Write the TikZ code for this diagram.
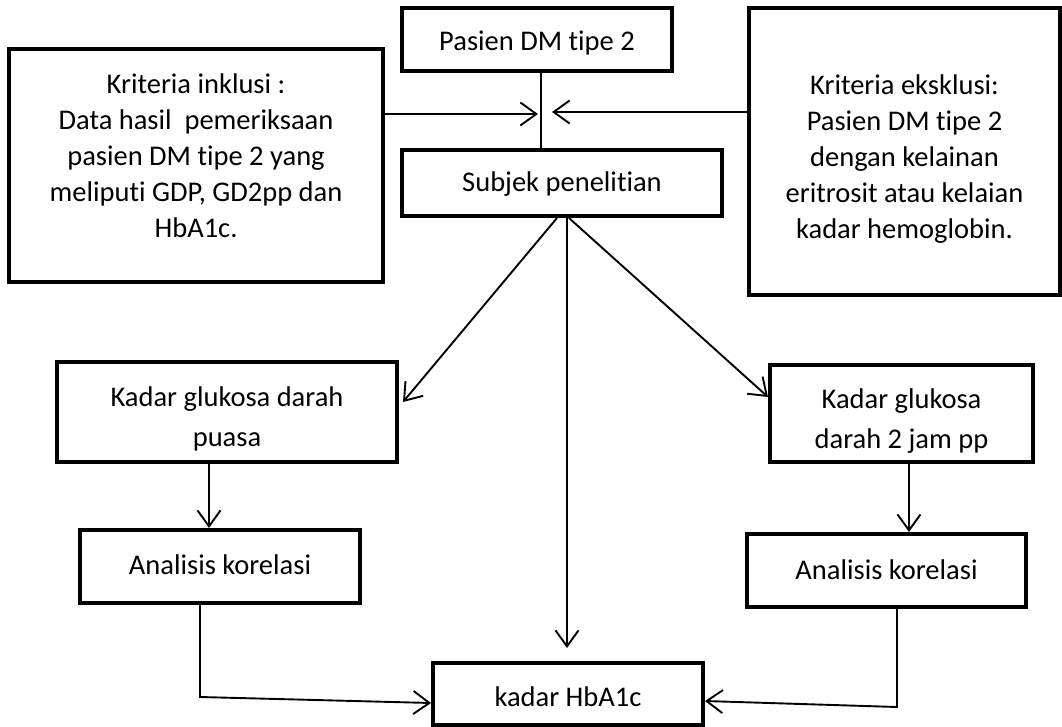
\documentclass[tikz,border=0pt]{standalone}
\usepackage{fontspec}
\setmainfont{Carlito}[Ligatures={NoCommon}]
\usetikzlibrary{arrows.meta,calc}
\begin{document}
\begin{tikzpicture}[x=1pt,y=-1pt,
 box/.style={draw,line width=4pt,inner sep=0pt},
 lbl/.style={align=center,font=\fontsize{28.5}{36}\selectfont,inner sep=0pt},
 conn/.style={line width=1.9pt,-{Straight Barb[length=16pt,width=23pt,line width=1.9pt]}},
 plain/.style={line width=1.9pt}]
\useasboundingbox (0,0) rectangle (1062,727);
% boxes
\node[box,minimum width=374pt,minimum height=233pt] (inc) at (196,165.5) {};
\node[box,minimum width=311pt,minimum height=287pt] (exc) at (904.5,151.5) {};
\node[box,minimum width=270pt,minimum height=63pt] (pas) at (537,39.5) {};
\node[box,minimum width=320pt,minimum height=66pt] (sub) at (562,183) {};
\node[box,minimum width=340pt,minimum height=100pt] (gdp) at (227,412) {};
\node[box,minimum width=263pt,minimum height=97pt] (gpp) at (901.5,413.5) {};
\node[box,minimum width=280pt,minimum height=73pt] (an1) at (220,566.5) {};
\node[box,minimum width=279pt,minimum height=73pt] (an2) at (886.5,570.5) {};
\node[box,minimum width=270pt,minimum height=62pt] (hba) at (568,694) {};
% texts
\node[lbl] (tinc) at (196,156) {Kriteria inklusi :\\Data hasil\ \ pemeriksaan\\pasien DM tipe 2 yang\\meliputi GDP, GD2pp dan\\HbA1c.};
\node[lbl] (texc) at (904.5,159) {Kriteria eksklusi:\\Pasien DM tipe 2\\dengan kelainan\\eritrosit atau kelaian\\kadar hemoglobin.};
\node[lbl] (tpas) at (537,43) {Pasien DM tipe 2};
\node[lbl] (tsub) at (562,184) {Subjek penelitian};
\node[lbl,font=\fontsize{28.5}{40}\selectfont] (tgdp) at (227,419) {Kadar glukosa darah\\puasa};
\node[lbl,font=\fontsize{28.5}{40}\selectfont] (tgpp) at (901.5,421) {Kadar glukosa\\darah 2 jam pp};
\node[lbl] (tan1) at (220,565) {Analisis korelasi};
\node[lbl] (tan2) at (886.5,570) {Analisis korelasi};
\node[lbl] (thba) at (568,697) {kadar HbA1c};
% coordinates
\coordinate (vx) at (541,0);
\coordinate (ja) at (538,114);
\coordinate (jb) at (552,112);
\coordinate (s1) at (557,0);
\coordinate (t1) at (403,402);
\coordinate (s2) at (567,0);
\coordinate (t2) at (567,648);
\coordinate (s3) at (569,0);
\coordinate (t3) at (768,397);
\coordinate (x1) at (209,0);
\coordinate (x2) at (909,0);
\coordinate (b1) at (200,697);
\coordinate (e1) at (0,703);
\coordinate (b2) at (897,707);
\coordinate (e2) at (0,701);
% connectors
\draw[plain] (pas.south -| vx) -- (sub.north -| vx);
\draw[conn] (inc.east |- ja) -- (ja);
\draw[conn] (exc.west |- jb) -- (jb);
\draw[conn] (sub.south -| s1) -- (t1);
\draw[conn] (sub.south -| s2) -- (t2);
\draw[conn] (sub.south -| s3) -- (t3);
\draw[conn] (gdp.south -| x1) -- (an1.north -| x1);
\draw[conn] (gpp.south -| x2) -- (an2.north -| x2);
\draw[conn] (an1.south -| b1) -- (b1) -- (hba.west |- e1);
\draw[conn] (an2.south -| b2) -- (b2) -- (hba.east |- e2);
\end{tikzpicture}
\end{document}
